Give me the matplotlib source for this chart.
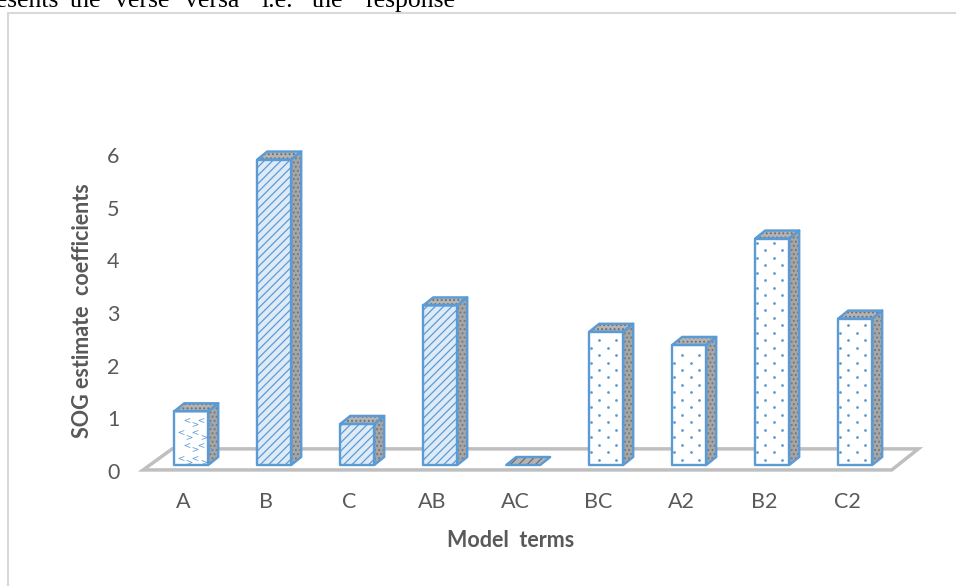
import numpy as np
import matplotlib
import matplotlib.pyplot as plt
from matplotlib.patches import Polygon, Rectangle

matplotlib.use('Agg')

terms = ['A', 'B', 'C', 'AB', 'AC', 'BC', 'A2', 'B2', 'C2']
coef = [1.02, 5.8, 0.78, 3.03, 0.0, 2.53, 2.28, 4.3, 2.78]
styles = ['chevron', 'hatch', 'hatch', 'hatch', 'hatch', 'dots', 'dots', 'dots', 'dots']
yticks = [0, 1, 2, 3, 4, 5, 6]

BLUE = '#5B9BD5'
LIGHT = '#DEEBF7'
GREY_TXT = '#595959'

# fake 3d geometry (category units / value units)
half_w = 0.205
shift = 0.10
base = 0.114
dep_x, dep_y = 0.12, 0.152


def face(ax, verts, fc, hatch=None, hc=None, z=3):
    ax.add_patch(Polygon(verts, closed=True, facecolor=fc, edgecolor=hc or fc,
                         lw=0, hatch=hatch, zorder=z))
    ax.add_patch(Polygon(verts, closed=True, fill=False, edgecolor=BLUE,
                         lw=1.7, joinstyle='round', zorder=z + 0.5))


def draw_bar(ax, i, v, style):
    x0 = i + shift - half_w
    x1 = i + shift + half_w
    y0 = base
    y1 = base + v
    w = x1 - x0
    front = [(x0, y0), (x1, y0), (x1, y1), (x0, y1)]
    side = [(x1, y0), (x1 + dep_x, y0 + dep_y), (x1 + dep_x, y1 + dep_y), (x1, y1)]
    top = [(x0, y1), (x1, y1), (x1 + dep_x, y1 + dep_y), (x0 + dep_x, y1 + dep_y)]

    if v > 0:
        face(ax, side, '#A6A6A6', '....', '#777777')
        if style == 'hatch':
            face(ax, front, LIGHT, '////', BLUE)
        elif style == 'dots':
            face(ax, front, 'white')
            # staggered dot pattern
            r = 0
            yy = y0 + 0.1
            while yy < y1 - 0.06:
                fr = [0.30, 0.80] if r % 2 == 0 else [0.06, 0.55]
                ax.scatter([x0 + f * w for f in fr], [yy] * 2, s=4, color=BLUE,
                           lw=0, zorder=3.2)
                yy += 0.142
                r += 1
        else:
            face(ax, front, 'white')
            # small chevron pattern
            r = 0
            yy = y0 + 0.14
            while yy < y1 - 0.08:
                fr = [0.2, 0.62] if r % 2 == 0 else [0.38, 0.8]
                for f in fr:
                    ax.scatter([x0 + f * w], [yy], s=17, marker='$<$', color=BLUE,
                               lw=0, zorder=3.2)
                    ax.scatter([x0 + f * w + 0.1], [yy - 0.08], s=17, marker='$>$',
                               color=BLUE, lw=0, zorder=3.2)
                yy += 0.24
                r += 1
    hatch_top = '////' if v == 0 else '....'
    face(ax, top, '#B4B4B4', hatch_top, '#6F6F6F')


plt.rcParams['font.family'] = ['Lato', 'DejaVu Sans']
plt.rcParams['hatch.linewidth'] = 0.9

fig = plt.figure(figsize=(9.56, 5.86), dpi=100)

# frame of the chart area and the clipped text line above it
fig.add_artist(Rectangle((8 / 956, -0.05), 1.1, (586 - 13) / 586 + 0.05,
                         transform=fig.transFigure, fill=False,
                         edgecolor='#D9D9D9', lw=1.5))
words = ['resents', 'the', 'verse', 'versa', 'i.e.', 'the', 'response']
word_x = [-12, 70, 115, 185, 262, 312, 365]
for w, wx in zip(words, word_x):
    fig.text(wx / 956, (586 - 7) / 586, w, family='Liberation Serif',
             fontsize=18.5, va='baseline', ha='left', color='black')

ax = fig.add_axes([0.1393, 0.1693, 0.8508, 0.7010])
ax.set_xlim(-0.6, 9.2)
ax.set_ylim(-0.3, 7.5)
for s in ax.spines.values():
    s.set_visible(False)

# floor
n = len(terms)
floor = [(-0.48, 0.02), (n - 1 + 0.54, 0.02), (n - 1 + 0.86, 0.42), (-0.13, 0.42)]
ax.add_patch(Polygon(floor, closed=True, facecolor='white', edgecolor='#BFBFBF',
                     lw=2.5, zorder=1))

for i, (v, st) in enumerate(zip(coef, styles)):
    draw_bar(ax, i, v, st)

ax.set_yticks(yticks)
ax.set_yticklabels([str(t) for t in yticks])
ax.set_xticks(range(n))
ax.set_xticklabels(terms)
ax.tick_params(axis='both', length=0, labelsize=15.5, colors=GREY_TXT)
ax.tick_params(axis='y', pad=10)
ax.tick_params(axis='x', pad=4)

ax.set_ylabel('SOG estimate  coefficients', fontsize=15.5, fontweight='bold', color=GREY_TXT)
ax.yaxis.set_label_coords(-0.0494, 0.428)
ax.set_xlabel('Model  terms', fontsize=15.5, fontweight='bold', color=GREY_TXT)
ax.xaxis.set_label_coords(0.4645, -0.105)

fig.savefig('out.png', dpi=100)
